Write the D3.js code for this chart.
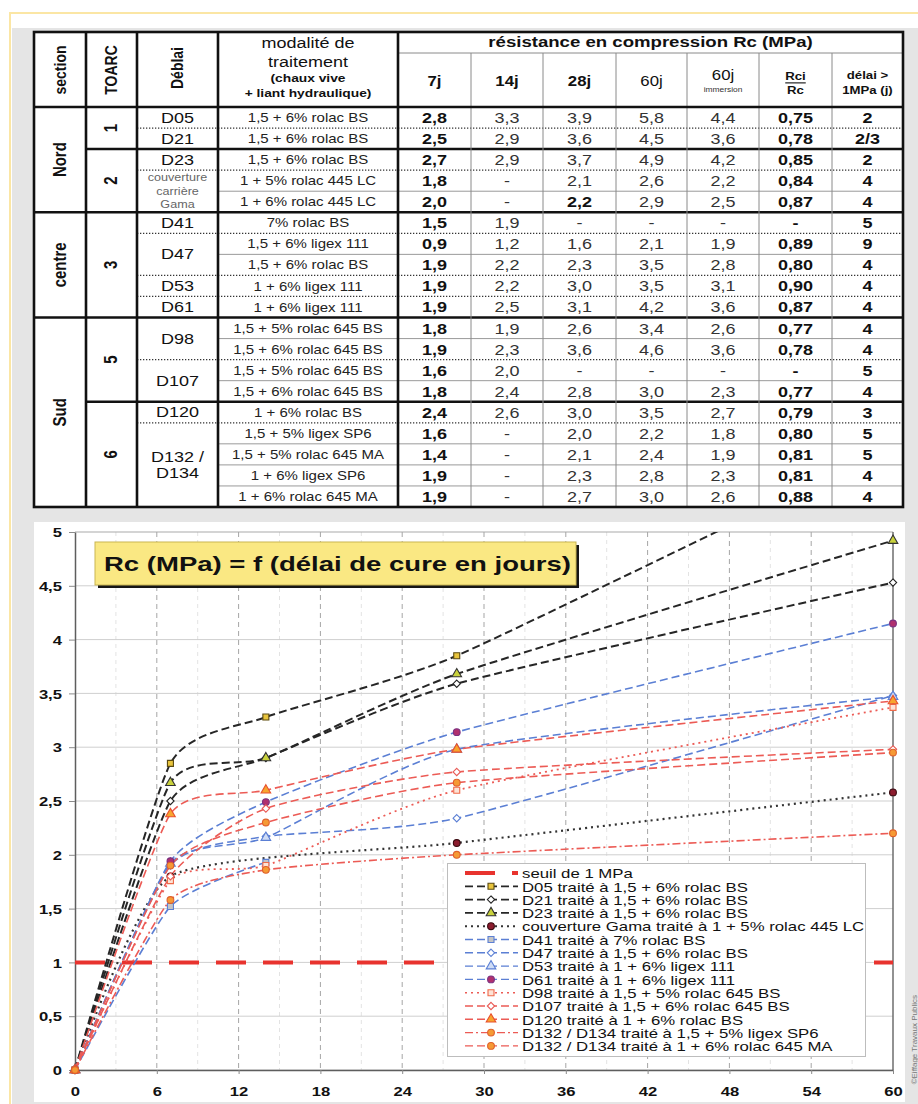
<!DOCTYPE html>
<html>
<head>
<meta charset="utf-8">
<script src="https://cdn.jsdelivr.net/npm/d3@7"></script>
<style>
  html, body { margin: 0; padding: 0; background: #fff; }
  svg { display: block; font-family: "Liberation Sans", Arial, Helvetica, sans-serif; }
</style>
</head>
<body>
<svg id="fig" width="918" height="1104"></svg>
<script>
/* Table of compressive strengths + Rc = f(curing time) chart, drawn in one SVG. */

// ---------- table data ----------
var sections = ["Nord", "centre", "Sud"];
var sectionSpans = [5, 5, 9];
var toarcs = ["1", "2", "3", "5", "6"];
var toarcSpans = [2, 3, 5, 4, 5];
var deblais = ["D05", "D21", "D23", "couverture|carrière|Gama", "D41", "D47", "D53", "D61", "D98", "D107", "D120", "D132 /|D134"];
var deblaiSpans = [1, 1, 1, 2, 1, 2, 1, 1, 2, 2, 1, 4];
var modalites = ["1,5 + 6% rolac BS", "1,5 + 6% rolac BS", "1,5 + 6% rolac BS", "1 + 5% rolac 445 LC", "1 + 6% rolac 445 LC",
  "7% rolac BS", "1,5 + 6% ligex 111", "1,5 + 6% rolac BS", "1 + 6% ligex 111", "1 + 6% ligex 111",
  "1,5 + 5% rolac 645 BS", "1,5 + 6% rolac 645 BS", "1,5 + 5% rolac 645 BS", "1,5 + 6% rolac 645 BS",
  "1 + 6% rolac BS", "1,5 + 5% ligex SP6", "1,5 + 5% rolac 645 MA", "1 + 6% ligex SP6", "1 + 6% rolac 645 MA"];
var rc7j  = ["2,8", "2,5", "2,7", "1,8", "2,0", "1,5", "0,9", "1,9", "1,9", "1,9", "1,8", "1,9", "1,6", "1,8", "2,4", "1,6", "1,4", "1,9", "1,9"];
var rc14j = ["3,3", "2,9", "2,9", "-", "-", "1,9", "1,2", "2,2", "2,2", "2,5", "1,9", "2,3", "2,0", "2,4", "2,6", "-", "-", "-", "-"];
var rc28j = ["3,9", "3,6", "3,7", "2,1", "2,2", "-", "1,6", "2,3", "3,0", "3,1", "2,6", "3,6", "-", "2,8", "3,0", "2,0", "2,1", "2,3", "2,7"];
var rc60j = ["5,8", "4,5", "4,9", "2,6", "2,9", "-", "2,1", "3,5", "3,5", "4,2", "3,4", "4,6", "-", "3,0", "3,5", "2,2", "2,4", "2,8", "3,0"];
var rc60i = ["4,4", "3,6", "4,2", "2,2", "2,5", "-", "1,9", "2,8", "3,1", "3,6", "2,6", "3,6", "-", "2,3", "2,7", "1,8", "1,9", "2,3", "2,6"];
var rciRc = ["0,75", "0,78", "0,85", "0,84", "0,87", "-", "0,89", "0,80", "0,90", "0,87", "0,77", "0,78", "-", "0,77", "0,79", "0,80", "0,81", "0,81", "0,88"];
var delai = ["2", "2/3", "2", "4", "4", "5", "9", "4", "4", "4", "4", "4", "5", "4", "3", "5", "5", "4", "4"];

// ---------- chart data ----------
var days = [0, 7, 14, 28, 60];
var yTicks = [0, 0.5, 1, 1.5, 2, 2.5, 3, 3.5, 4, 4.5, 5];
var xTicks = [0, 6, 12, 18, 24, 30, 36, 42, 48, 54, 60];
var threshold = 1;
var rcD05   = [0, 2.85, 3.28, 3.85, 5.8];
var rcD21   = [0, 2.5, 2.9, 3.59, 4.53];
var rcD23   = [0, 2.67, 2.9, 3.68, 4.92];
var rcGama  = [0, 1.8, null, 2.11, 2.58];
var rcD41   = [0, 1.52, 1.93, null, null];
var rcD47   = [0, 1.9, 2.17, 2.34, 3.48];
var rcD53   = [0, 1.92, 2.16, 2.98, 3.47];
var rcD61   = [0, 1.94, 2.49, 3.14, 4.15];
var rcD98   = [0, 1.76, 1.9, 2.6, 3.37];
var rcD107  = [0, 1.8, 2.43, 2.77, 2.98];
var rcD120  = [0, 2.38, 2.6, 2.98, 3.43];
var rcD132a = [0, 1.58, 1.86, 2.0, 2.2];
var rcD132b = [0, 1.9, 2.3, 2.67, 2.95];
var seriesValues = [rcD05, rcD21, rcD23, rcGama, rcD41, rcD47, rcD53, rcD61, rcD98, rcD107, rcD120, rcD132a, rcD132b];
var legendLabels = ["seuil de 1 MPa",
  "D05 traité à 1,5 + 6% rolac BS", "D21 traité à 1,5 + 6% rolac BS", "D23 traité à 1,5 + 6% rolac BS",
  "couverture Gama traité à 1 + 5% rolac 445 LC", "D41 traité à 7% rolac BS", "D47 traité à 1,5 + 6% rolac BS",
  "D53 traité à 1 + 6% ligex 111", "D61 traité à 1 + 6% ligex 111", "D98 traité à 1,5 + 5% rolac 645 BS",
  "D107 traité à 1,5 + 6% rolac 645 BS", "D120 traité à 1 + 6% rolac BS",
  "D132 / D134 traité à 1,5 + 5% ligex SP6", "D132 / D134 traité à 1 + 6% rolac 645 MA"];

// ---------- styles ----------
var BLK = "#262626", BLU = "#5b7fd4", RED = "#ec5b55";
var seriesStyle = [
  { stroke: BLK, dash: "8,4", w: 2, shape: "square", fill: "#e8c43c", ms: "#5a4a12" },
  { stroke: BLK, dash: "8,4", w: 2, shape: "diamond", fill: "#fff", ms: "#222" },
  { stroke: BLK, dash: "8,4", w: 2, shape: "triangle", fill: "#c9d23c", ms: "#333" },
  { stroke: "#333", dash: "2,4", w: 2.2, shape: "circle", fill: "#8c1c2e", ms: "#3a0a10" },
  { stroke: BLU, dash: "8,4", w: 1.6, shape: "square", fill: "#c4c4c4", ms: BLU },
  { stroke: BLU, dash: "8,4", w: 1.6, shape: "diamond", fill: "#fff", ms: BLU },
  { stroke: BLU, dash: "8,4", w: 1.6, shape: "triangle", fill: "#cfdcf5", ms: BLU },
  { stroke: BLU, dash: "8,4", w: 1.6, shape: "circle", fill: "#b0306e", ms: "#7a3080" },
  { stroke: RED, dash: "2,4", w: 1.8, shape: "square", fill: "#fde3d6", ms: "#ef6a4a" },
  { stroke: RED, dash: "8,4", w: 1.6, shape: "diamond", fill: "#fff", ms: "#e85a55" },
  { stroke: RED, dash: "8,4", w: 1.6, shape: "triangle", fill: "#f7a52e", ms: "#e8502e" },
  { stroke: RED, dash: "8,3,2,3", w: 1.6, shape: "circle", fill: "#f59a35", ms: "#e0602a" },
  { stroke: RED, dash: "8,4", w: 1.6, shape: "circle", fill: "#f59a35", ms: "#e0602a" }
];
var symbols = { square: [d3.symbolSquare, 36], diamond: [d3.symbolDiamond2, 34], triangle: [d3.symbolTriangle, 40], circle: [d3.symbolCircle, 36] };

var svg = d3.select("#fig");

// text helper: the picture's lettering is horizontally stretched, so every label gets scale(sx,1)
function txt(g, x, y, s, o) {
  o = o || {};
  var tr = "translate(" + x + "," + y + ") scale(" + (o.sx || 1.2) + ",1)" + (o.rot ? " rotate(" + o.rot + ")" : "");
  return g.append("text").attr("transform", tr)
    .attr("text-anchor", o.anchor || "middle")
    .attr("dominant-baseline", "central")
    .attr("font-size", o.size || 13)
    .attr("font-weight", o.bold ? "bold" : "normal")
    .attr("fill", o.fill || "#111")
    .text(s);
}
function hline(g, x1, x2, yy, stroke, w, dash) {
  g.append("line").attr("x1", x1).attr("x2", x2).attr("y1", yy).attr("y2", yy)
    .attr("stroke", stroke).attr("stroke-width", w).attr("stroke-dasharray", dash || null);
}
function vline(g, xx, y1, y2, stroke, w) {
  g.append("line").attr("x1", xx).attr("x2", xx).attr("y1", y1).attr("y2", y2).attr("stroke", stroke).attr("stroke-width", w);
}

// ---------- page frame ----------
svg.append("rect").attr("width", 918).attr("height", 1104).attr("fill", "#fff");
svg.append("rect").attr("x", 9).attr("y", 12).attr("width", 909).attr("height", 2).attr("fill", "#fbe6a4");
svg.append("rect").attr("x", 9).attr("y", 12).attr("width", 2).attr("height", 1092).attr("fill", "#fbe6a4");
svg.append("rect").attr("x", 12).attr("y", 28).attr("width", 906).attr("height", 1076).attr("fill", "#e5e5e5");
txt(svg, 914, 995, "©Eiffage Travaux Publics", { rot: -90, anchor: "end", size: 8, sx: 1, fill: "#777" });

// ---------- table ----------
var tb = svg.append("g");
var cols = [34, 86, 137, 218, 398, 471, 543, 616, 687, 759, 832, 903];
var tTop = 32, tSub = 53, tHead = 107, tBot = 507;
var rowH = (tBot - tHead) / modalites.length;
function rowY(i) { return tHead + i * rowH; }
function colC(j) { return (cols[j] + cols[j + 1]) / 2; }

tb.append("rect").attr("x", cols[0]).attr("y", tTop).attr("width", cols[11] - cols[0]).attr("height", tBot - tTop).attr("fill", "#fff");

// header
txt(tb, colC(0), 70, "section", { rot: -90, bold: true, size: 14 });
txt(tb, colC(1), 70, "TOARC", { rot: -90, bold: true, size: 14 });
txt(tb, colC(2), 68, "Déblai", { rot: -90, bold: true, size: 14 });
txt(tb, colC(3), 43, "modalité de", { size: 15 });
txt(tb, colC(3), 62, "traitement", { size: 15 });
txt(tb, colC(3), 78, "(chaux vive", { size: 11.5, bold: true });
txt(tb, colC(3), 93, "+ liant hydraulique)", { size: 11.5, bold: true });
txt(tb, (cols[4] + cols[11]) / 2, 42.5, "résistance en compression Rc (MPa)", { size: 15.5, bold: true });
txt(tb, colC(4), 81, "7j", { size: 14, bold: true });
txt(tb, colC(5), 81, "14j", { size: 14, bold: true });
txt(tb, colC(6), 81, "28j", { size: 14, bold: true });
txt(tb, colC(7), 81, "60j", { size: 14 });
txt(tb, colC(8), 75, "60j", { size: 14 });
txt(tb, colC(8), 89.5, "immersion", { size: 7, fill: "#333" });
txt(tb, colC(9), 76, "Rci", { size: 11, bold: true }).attr("text-decoration", "underline");
txt(tb, colC(9), 90, "Rc", { size: 11, bold: true });
txt(tb, colC(10), 75, "délai >", { size: 11, bold: true });
txt(tb, colC(10), 90, "1MPa (j)", { size: 11, bold: true });

// merged left cells
function spanCells(labels, spans, j, o) {
  var start = 0;
  labels.forEach(function (lab, k) {
    var y0 = rowY(start), y1 = rowY(start + spans[k]);
    var parts = lab.split("|"), small = parts.length > 2, lh = small ? 13.5 : (o.lh || 16);
    parts.forEach(function (p, m) {
      txt(tb, colC(j), (y0 + y1) / 2 + (m - (parts.length - 1) / 2) * lh, p,
        { rot: o.rot, bold: o.bold, size: small ? 10.5 : o.size, fill: small ? "#666" : o.fill });
    });
    start += spans[k];
  });
}
spanCells(sections, sectionSpans, 0, { rot: -90, bold: true, size: 15 });
spanCells(toarcs, toarcSpans, 1, { rot: -90, bold: true, size: 15 });
spanCells(deblais, deblaiSpans, 2, { size: 15, fill: "#111", lh: 16 });

// values
var valueCols = [rc7j, rc14j, rc28j, rc60j, rc60i, rciRc, delai];
var boldCols = [true, false, false, false, false, true, true];
modalites.forEach(function (m, i) {
  var cy = rowY(i) + rowH / 2 + 0.5;
  txt(tb, colC(3), cy, m, { size: 12.5, fill: "#222" });
  valueCols.forEach(function (arr, c) {
    var b = boldCols[c] || (c === 2 && i === 4);
    txt(tb, colC(4 + c), cy, arr[i], { size: 15, bold: b, fill: b ? "#111" : "#333" });
  });
});

// row rules: section end = thick full; TOARC end = thick from TOARC col; déblai end = dotted; else thin
function ends(spans) { var e = [], s = 0; spans.forEach(function (n) { s += n; e.push(s); }); return e; }
var secEnds = ends(sectionSpans), toEnds = ends(toarcSpans), debEnds = ends(deblaiSpans);
for (var r = 1; r < modalites.length; r++) {
  var yy = rowY(r);
  if (secEnds.indexOf(r) >= 0) hline(tb, cols[0], cols[11], yy, "#111", 2.5);
  else if (toEnds.indexOf(r) >= 0) hline(tb, cols[1], cols[11], yy, "#111", 2.5);
  else if (debEnds.indexOf(r) >= 0) hline(tb, cols[2], cols[11], yy, "#333", 1.3, "1.3,1.7");
  else hline(tb, cols[3], cols[11], yy, "#9a9a9a", 1);
}
hline(tb, cols[4], cols[11], tSub, "#8a8a8a", 1);
for (var c = 5; c <= 10; c++) vline(tb, cols[c], tSub, tBot, "#8a8a8a", 1);
[1, 2, 3, 4].forEach(function (k) { vline(tb, cols[k], tTop, tBot, "#111", 2.6); });
hline(tb, cols[0], cols[11], tHead, "#111", 2.6);
tb.append("rect").attr("x", cols[0]).attr("y", tTop).attr("width", cols[11] - cols[0]).attr("height", tBot - tTop)
  .attr("fill", "none").attr("stroke", "#111").attr("stroke-width", 2.6);

// ---------- chart ----------
var ch = svg.append("g");
ch.append("rect").attr("x", 34).attr("y", 522).attr("width", 871).attr("height", 580).attr("fill", "#fff");

var x = d3.scaleLinear().domain([0, 60]).range([75, 893]);
var y = d3.scaleLinear().domain([0, 5]).range([1070, 532]);
var SXc = 1.28;

// grid
var grid = ch.append("g");
d3.range(3, 60, 6).forEach(function (d) { vline(grid, x(d), y(5), y(0), "#e3e3e3", 1); });
grid.selectAll("line").attr("stroke-dasharray", "4,4");
yTicks.forEach(function (d) { hline(grid, x(0), x(60), y(d), d === 5 ? "#a9a9a9" : "#cfcfcf", 1); });
xTicks.slice(1, -1).forEach(function (d) {
  grid.append("line").attr("x1", x(d)).attr("x2", x(d)).attr("y1", y(5)).attr("y2", y(0))
    .attr("stroke", "#a5a5a5").attr("stroke-width", 1).attr("stroke-dasharray", "5,4");
});
vline(grid, x(60), y(5), y(0), "#6e6e6e", 1.5);

// axes
var fmt = function (d) { return String(d).replace(".", ","); };
var gy = ch.append("g").attr("transform", "translate(" + x(0) + ",0)")
  .call(d3.axisLeft(y).tickValues(yTicks).tickFormat(fmt).tickSize(6).tickSizeOuter(0));
var gx = ch.append("g").attr("transform", "translate(0," + y(0) + ")")
  .call(d3.axisBottom(x).tickValues(xTicks).tickFormat(fmt).tickSize(4).tickSizeOuter(0));
[gy, gx].forEach(function (g) {
  g.select(".domain").attr("stroke", "#5e5e5e").attr("stroke-width", 1.5);
  g.selectAll(".tick line").attr("stroke", "#8a8a8a");
  g.selectAll("text").attr("font-family", null).attr("font-size", 13).attr("font-weight", "bold").attr("fill", "#111")
    .attr("dy", null).attr("dominant-baseline", "central");
});
gy.selectAll(".tick text").attr("x", null).attr("text-anchor", "end").attr("transform", "translate(-13,0) scale(" + SXc + ",1)");
gx.selectAll(".tick text").attr("y", null).attr("transform", "translate(0,21) scale(" + SXc + ",1)");

// title box
ch.append("rect").attr("x", 98).attr("y", 545).attr("width", 481).attr("height", 43).attr("fill", "#161616");
ch.append("rect").attr("x", 95).attr("y", 542).attr("width", 481).attr("height", 43).attr("fill", "#fae883")
  .attr("stroke", "#c9b552").attr("stroke-width", 1);
txt(ch, 104, 563.5, "Rc (MPa) = f (délai de cure en jours)", { anchor: "start", size: 21, bold: true, sx: 1.31 });

// threshold + series
ch.append("clipPath").attr("id", "plotclip").append("rect")
  .attr("x", x(0) - 2).attr("y", y(5)).attr("width", x(60) - x(0) + 8).attr("height", y(0) - y(5) + 6);
var plot = ch.append("g").attr("clip-path", "url(#plotclip)");
var THR = { stroke: "#e8332e", w: 4, dash: "30,17" };
hline(plot, x(0), x(60), y(threshold), THR.stroke, THR.w, THR.dash);

// smoothed like the spreadsheet's "smoothed line": cardinal spline with shortened handles
var line = d3.line().x(function (p) { return x(p[0]); }).y(function (p) { return y(p[1]); }).curve(d3.curveCardinal.tension(0.45));
function pts(vals) { return days.map(function (d, i) { return [d, vals[i]]; }).filter(function (p) { return p[1] != null; }); }
function marker(g, cx, cy, st) {
  var s = symbols[st.shape];
  g.append("path").attr("d", d3.symbol().type(s[0]).size(s[1])())
    .attr("transform", "translate(" + cx + "," + cy + ")")
    .attr("fill", st.fill).attr("stroke", st.ms).attr("stroke-width", 1.1);
}
seriesValues.forEach(function (vals, k) {
  var st = seriesStyle[k], p = pts(vals);
  plot.append("path").attr("d", line(p)).attr("fill", "none").attr("stroke", st.stroke)
    .attr("stroke-width", st.w).attr("stroke-dasharray", st.dash).attr("stroke-linecap", "butt");
});
var mk = ch.append("g");
seriesValues.forEach(function (vals, k) {
  pts(vals).filter(function (p) { return p[1] <= 5; }).forEach(function (p) { marker(mk, x(p[0]), y(p[1]), seriesStyle[k]); });
});

// legend
var lg = ch.append("g");
lg.append("rect").attr("x", 447.5).attr("y", 863.5).attr("width", 418).attr("height", 193)
  .attr("fill", "#fff").attr("stroke", "#bdbdbd").attr("stroke-width", 1);
legendLabels.forEach(function (lab, i) {
  var cy = 873 + i * 13.3;
  if (i === 0) {
    hline(lg, 465, 518, cy, THR.stroke, THR.w, THR.dash);
  } else {
    var st = seriesStyle[i - 1];
    hline(lg, 465, 518, cy, st.stroke, st.w * 0.85, st.dash);
    marker(lg, 491, cy, st);
  }
  txt(lg, 522, cy + 0.5, lab, { anchor: "start", size: 13.1, sx: SXc, fill: "#111" });
});
</script>
</body>
</html>
